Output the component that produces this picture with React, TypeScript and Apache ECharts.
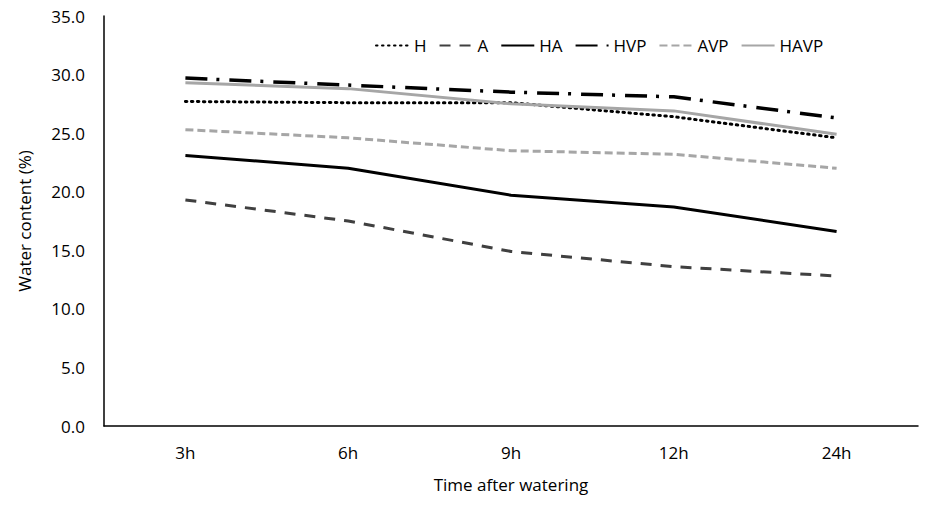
import React, { useEffect, useRef } from "react";
import * as echarts from "echarts";

const categories = ["3h", "6h", "9h", "12h", "24h"];
const seriesNames = ["H", "A", "HA", "HVP", "AVP", "HAVP"];
const H = [27.7, 27.6, 27.6, 26.4, 24.6];
const A = [19.3, 17.5, 14.9, 13.6, 12.8];
const HA = [23.1, 22.0, 19.7, 18.7, 16.6];
const HVP = [29.7, 29.1, 28.5, 28.1, 26.3];
const AVP = [25.3, 24.6, 23.5, 23.2, 22.0];
const HAVP = [29.3, 28.8, 27.5, 26.9, 24.9];
const yTicks = [0, 5, 10, 15, 20, 25, 30, 35];

const FONT = "'Open Sans', 'Noto Sans', sans-serif";

export default function App() {
  const ref = useRef<HTMLDivElement>(null);
  useEffect(() => {
    if (!ref.current) return;
    const chart = echarts.init(ref.current, undefined, { renderer: "svg" });
    const values = [H, A, HA, HVP, AVP, HAVP];
    const styles: any[] = [
      { color: "#000000", width: 3, type: [1.5, 4.5], cap: "round" },
      { color: "#404040", width: 3, type: [11, 9] },
      { color: "#000000", width: 3, type: "solid" },
      { color: "#000000", width: 3.5, type: [22, 9, 3, 10] },
      { color: "#a6a6a6", width: 3, type: [8, 4] },
      { color: "#a6a6a6", width: 3, type: "solid" },
    ];
    chart.setOption({
      animation: false,
      backgroundColor: "#ffffff",
      grid: { left: 104, right: 14, top: 16, bottom: 80, containLabel: false },
      legend: {
        data: seriesNames,
        left: 370,
        top: 32,
        itemWidth: 33,
        itemHeight: 14,
        itemGap: 12,
        itemStyle: { opacity: 0 },
        textStyle: { fontFamily: FONT, fontSize: 17, color: "#000000" },
      },
      xAxis: {
        type: "category",
        data: categories,
        boundaryGap: true,
        axisLine: { lineStyle: { color: "#000000", width: 1.5 } },
        axisTick: { show: false },
        axisLabel: { fontFamily: FONT, fontSize: 17, color: "#000000", margin: 18 },
        name: "Time after watering",
        nameLocation: "middle",
        nameGap: 50,
        nameTextStyle: { fontFamily: FONT, fontSize: 17, color: "#000000" },
      },
      yAxis: {
        type: "value",
        min: yTicks[0],
        max: yTicks[yTicks.length - 1],
        interval: 5,
        splitLine: { show: false },
        axisLine: { show: true, lineStyle: { color: "#000000", width: 1.5 } },
        axisTick: { show: false },
        axisLabel: {
          fontFamily: FONT,
          fontSize: 17,
          color: "#000000",
          margin: 19,
          formatter: (v: number) => v.toFixed(1),
        },
        name: "Water content (%)",
        nameLocation: "middle",
        nameGap: 71,
        nameRotate: 90,
        nameTextStyle: { fontFamily: FONT, fontSize: 17, color: "#000000" },
      },
      series: seriesNames.map((name, i) => ({
        name,
        type: "line",
        data: values[i],
        symbol: "none",
        lineStyle: styles[i],
        itemStyle: { color: styles[i].color },
      })),
    });
    return () => chart.dispose();
  }, []);
  return <div ref={ref} style={{ width: 932, height: 506, position: "absolute", left: 0, top: 0 }} />;
}
